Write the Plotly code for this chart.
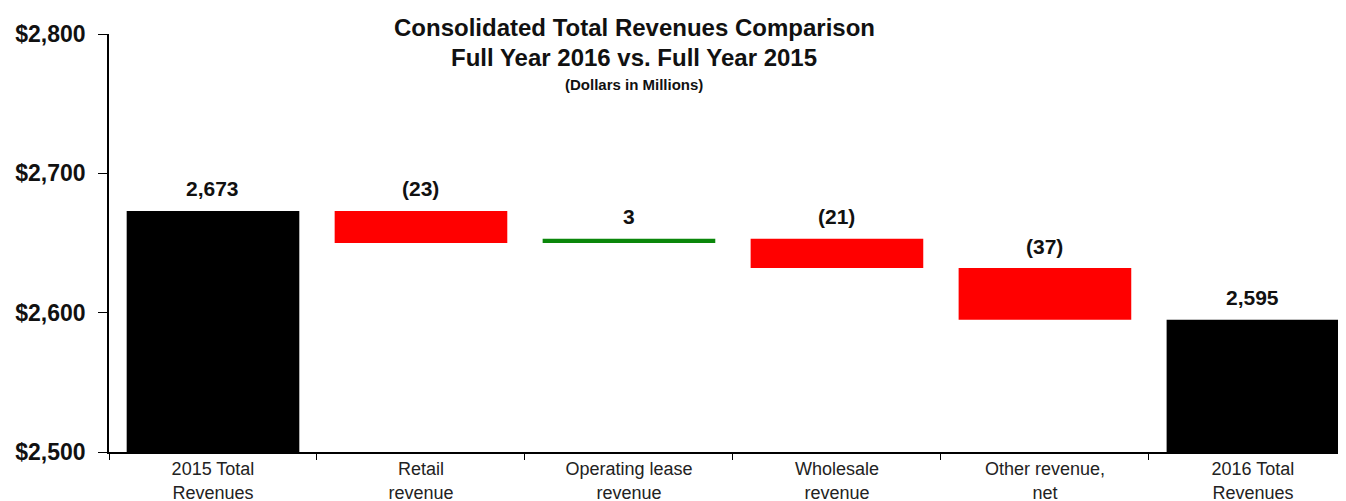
import plotly.graph_objects as go

categories = ["2015 Total<br>Revenues", "Retail<br>revenue", "Operating lease<br>revenue",
              "Wholesale<br>revenue", "Other revenue,<br>net", "2016 Total<br>Revenues"]
measures = ["absolute", "relative", "relative", "relative", "relative", "total"]
values = [2673, -23, 3, -21, -37, 0]
value_labels = ["2,673", "(23)", "3", "(21)", "(37)", "2,595"]
y_ticks = [2500, 2600, 2700, 2800]

# compute bar tops for label placement
tops = []
run = 0
for m, v in zip(measures, values):
    if m == "absolute":
        run = v
        tops.append(v)
    elif m == "relative":
        tops.append(max(run, run + v))
        run += v
    else:
        tops.append(run)

fig = go.Figure()
fig.add_trace(go.Waterfall(
    x=categories, y=values, measure=measures,
    increasing=dict(marker=dict(color="#0b870b", line=dict(width=0))),
    decreasing=dict(marker=dict(color="#ff0000", line=dict(width=0))),
    totals=dict(marker=dict(color="#000000", line=dict(width=0))),
    connector=dict(visible=False),
    width=0.83,
    hoverinfo="skip",
))

for c, t, lab in zip(categories, tops, value_labels):
    fig.add_annotation(x=c, y=t, text=lab, showarrow=False, yanchor="middle",
                       yshift=22, font=dict(family="Liberation Sans, Arial", size=21,
                                            color="#111111", weight="bold"))

title_font = dict(family="Liberation Sans, Arial", size=24, color="#111111", weight="bold")
fig.add_annotation(xref="paper", yref="paper", x=0.422, y=1.0167, text="Consolidated Total Revenues Comparison",
                   showarrow=False, xanchor="center", yanchor="middle", font=title_font)
fig.add_annotation(xref="paper", yref="paper", x=0.422, y=0.9426, text="Full Year 2016 vs. Full Year 2015",
                   showarrow=False, xanchor="center", yanchor="middle", font=title_font)
fig.add_annotation(xref="paper", yref="paper", x=0.422, y=0.878, text="(Dollars in Millions)",
                   showarrow=False, xanchor="center", yanchor="middle",
                   font=dict(family="Liberation Sans, Arial", size=15, color="#111111", weight="bold"))

fig.update_layout(
    width=1346, height=501,
    margin=dict(l=101, r=0, t=26, b=57),
    paper_bgcolor="white", plot_bgcolor="white",
    showlegend=False,
    xaxis=dict(range=[-0.5, 5.486], showgrid=False, showline=True, linecolor="#000000", linewidth=1.5,
               ticks="outside", tickson="boundaries", ticklen=6, tickcolor="#000000",
               tickfont=dict(family="Liberation Sans, Arial", size=18, color="#222222"),
               zeroline=False),
    yaxis=dict(range=[2500, 2800], tickvals=y_ticks, tickformat="$,.0f", showgrid=False,
               showline=True, linecolor="#000000", linewidth=1.5, ticks="outside", ticklen=9,
               tickcolor="#000000", ticklabelstandoff=8,
               tickfont=dict(family="Liberation Sans, Arial", size=23, color="#111111", weight="bold"),
               zeroline=False),
)

fig.write_html("out.html")
